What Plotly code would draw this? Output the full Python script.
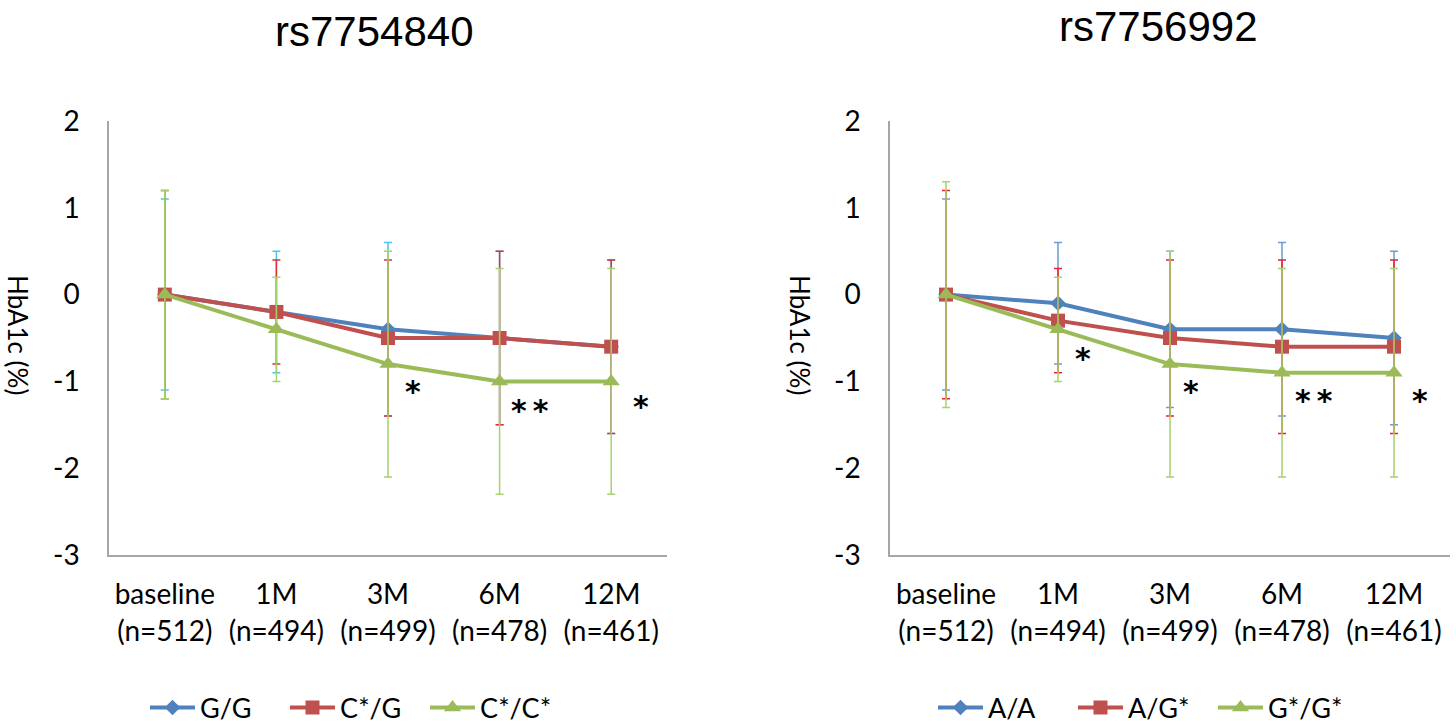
import plotly.graph_objects as go

# ---------------- data ----------------
categories = ["baseline<br>(n=512)", "1M<br>(n=494)", "3M<br>(n=499)", "6M<br>(n=478)", "12M<br>(n=461)"]
y_ticks = [2, 1, 0, -1, -2, -3]
y_tick_text = ["2", "1", "0", "-1", "-2", "-3"]

left_title = "rs7754840"
left_names = ["G/G", "C*/G", "C*/C*"]
left_gg = [0, -0.2, -0.4, -0.5, -0.6]
left_gg_err = [1.1, 0.7, 1.0, 1.0, 1.0]
left_cg = [0, -0.2, -0.5, -0.5, -0.6]
left_cg_err = [1.2, 0.6, 0.9, 1.0, 1.0]
left_cc = [0, -0.4, -0.8, -1.0, -1.0]
left_cc_err = [1.2, 0.6, 1.3, 1.3, 1.3]
left_sig = ["", "", "*", "**", "*"]

right_title = "rs7756992"
right_names = ["A/A", "A/G*", "G*/G*"]
right_aa = [0, -0.1, -0.4, -0.4, -0.5]
right_aa_err = [1.1, 0.7, 0.9, 1.0, 1.0]
right_ag = [0, -0.3, -0.5, -0.6, -0.6]
right_ag_err = [1.2, 0.6, 0.9, 1.0, 1.0]
right_gg = [0, -0.4, -0.8, -0.9, -0.9]
right_gg_err = [1.3, 0.6, 1.3, 1.2, 1.2]
right_sig = ["", "*", "*", "**", "*"]

# ---------------- style ----------------
BLUE, RED, GREEN = "#4F81BD", "#C0504D", "#9BBB59"
ERR_L = ["#4FC3F0", "#D9333A", "#A5D46A"]
ERR_R = ["#6E9BD3", "#F0202A", "#A5D46A"]
AXIS_GRAY = "#A6A6A6"
FONT = "Lato"

# annotation offsets for significance marks (x offset from category, y offset from green value)
left_sig_dx = [0, 0, 0.22, 0.27, 0.27]
left_sig_dy = [0, 0, -0.25, -0.27, -0.22]
right_sig_dx = [0, 0.22, 0.19, 0.29, 0.23]
right_sig_dy = [0, -0.27, -0.25, -0.25, -0.25]

xpos = list(range(len(categories)))

fig = go.Figure()


def add_series(xa, ya, names, ys, errs, errcols, legend):
    colors = [BLUE, RED, GREEN]
    symbols = ["diamond", "square", "triangle-up"]
    sizes = [12, 14, 15]
    for name, y, e, c, ec, s, sz in zip(names, ys, errs, colors, errcols, symbols, sizes):
        fig.add_trace(go.Scatter(
            x=xpos, y=y, name=name, mode="lines+markers",
            xaxis=xa, yaxis=ya, legend=legend,
            line=dict(color=c, width=4),
            marker=dict(symbol=s, size=sz, color=c, line=dict(width=0)),
            error_y=dict(type="data", array=e, visible=True, color=ec, thickness=1.5, width=4),
        ))


add_series("x", "y", left_names, [left_gg, left_cg, left_cc],
           [left_gg_err, left_cg_err, left_cc_err], ERR_L, "legend")
add_series("x2", "y2", right_names, [right_aa, right_ag, right_gg],
           [right_aa_err, right_ag_err, right_gg_err], ERR_R, "legend2")

annotations = []
for xr, yr, sig, base, dxs, dys in [
    ("x", "y", left_sig, left_cc, left_sig_dx, left_sig_dy),
    ("x2", "y2", right_sig, right_gg, right_sig_dx, right_sig_dy),
]:
    for i, s in enumerate(sig):
        if s:
            annotations.append(dict(
                x=xpos[i] + dxs[i], y=base[i] + dys[i], xref=xr, yref=yr,
                text="<b>" + "\u2009".join(s) + "</b>", showarrow=False,
                font=dict(family="DejaVu Sans", size=30, color="black"),
                xanchor="center", yanchor="middle", yshift=-6))

# titles
annotations.append(dict(x=375 / 1456, y=1 - 31 / 725, xref="paper", yref="paper", text=left_title,
                        showarrow=False, font=dict(family="Liberation Sans", size=42, color="black"),
                        xanchor="center", yanchor="middle"))
annotations.append(dict(x=1158 / 1456, y=1 - 26 / 725, xref="paper", yref="paper", text=right_title,
                        showarrow=False, font=dict(family="Liberation Sans", size=42, color="black"),
                        xanchor="center", yanchor="middle"))
# y-axis titles
for xp in [18, 800]:
    annotations.append(dict(x=xp / 1456, y=1 - 335 / 725, xref="paper", yref="paper", text="HbA1c (%)",
                            showarrow=False, textangle=90,
                            font=dict(family=FONT, size=26, color="black"),
                            xanchor="center", yanchor="middle"))

ydom = [1 - 555 / 725, 1 - 121 / 725]
xaxis_common = dict(
    range=[-0.5, 4.5], tickvals=xpos, ticktext=categories, showgrid=False, zeroline=False,
    showline=True, linecolor=AXIS_GRAY, linewidth=1.5, ticks="", ticklabelstandoff=14,
    tickfont=dict(family=FONT, size=28, color="black"), fixedrange=True,
)
yaxis_common = dict(
    range=[-3, 2], tickvals=y_ticks, ticktext=y_tick_text, showgrid=False, zeroline=False,
    showline=True, linecolor=AXIS_GRAY, linewidth=1.5, ticks="", ticklabelstandoff=22,
    tickfont=dict(family=FONT, size=28, color="black"), domain=ydom, fixedrange=True,
)

legend_common = dict(orientation="h", font=dict(family=FONT, size=27, color="black"),
                     bgcolor="rgba(0,0,0,0)", yanchor="middle", xanchor="left",
                     itemwidth=45, entrywidth=80, entrywidthmode="pixels",
                     itemclick=False, itemdoubleclick=False)

fig.update_layout(
    width=1456, height=725,
    margin=dict(l=0, r=0, t=0, b=0, autoexpand=False),
    paper_bgcolor="white", plot_bgcolor="white",
    xaxis=dict(domain=[109 / 1456, 667 / 1456], anchor="y", **xaxis_common),
    yaxis=dict(anchor="x", **yaxis_common),
    xaxis2=dict(domain=[890 / 1456, 1450 / 1456], anchor="y2", **xaxis_common),
    yaxis2=dict(anchor="x2", **yaxis_common),
    legend=dict(x=145 / 1456, y=1 - 708 / 725, **legend_common),
    legend2=dict(x=933 / 1456, y=1 - 708 / 725, **legend_common),
    annotations=annotations,
    showlegend=True,
)

fig.write_html("out.html", config={"displayModeBar": False},
               post_script="document.body.style.margin='0';document.body.style.overflow='hidden';")
